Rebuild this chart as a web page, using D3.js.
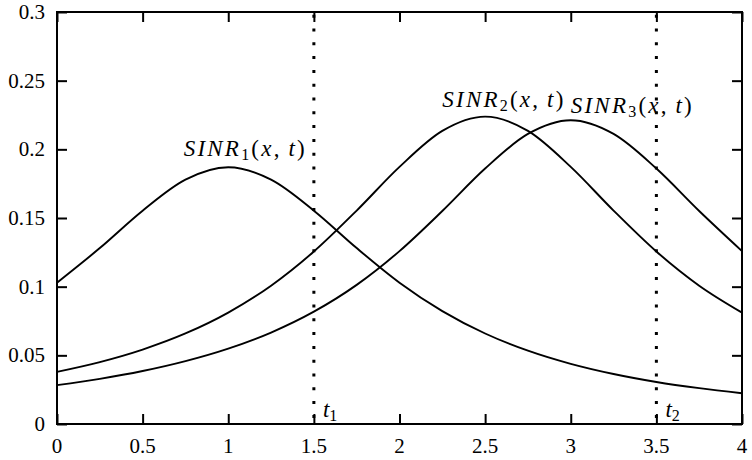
<!DOCTYPE html>
<html>
<head>
<meta charset="utf-8">
<script src="https://cdn.jsdelivr.net/npm/d3@7"></script>
<style>
  html, body { margin: 0; padding: 0; background: #fff; }
  svg { display: block; }
</style>
</head>
<body>
<svg id="chart" width="752" height="460"></svg>
<script>
// Sample positions along x (distance) and the three SINR curves
const xs = [0, 0.25, 0.5, 0.75, 1, 1.25, 1.5, 1.75, 2, 2.25, 2.5, 2.75, 3, 3.25, 3.5, 3.75, 4];
const sinr1 = [0.1029, 0.1281, 0.1553, 0.1779, 0.1869, 0.1779, 0.1553, 0.1281, 0.1029, 0.0822, 0.0659, 0.0534, 0.0438, 0.0364, 0.0306, 0.0261, 0.0224];
const sinr2 = [0.0380, 0.0451, 0.0542, 0.0659, 0.0811, 0.1007, 0.1256, 0.1554, 0.1872, 0.2134, 0.2238, 0.2134, 0.1872, 0.1554, 0.1256, 0.1007, 0.0811];
const sinr3 = [0.0283, 0.0329, 0.0386, 0.0458, 0.0549, 0.0666, 0.0818, 0.1013, 0.1259, 0.1551, 0.1860, 0.2112, 0.2212, 0.2112, 0.1860, 0.1551, 0.1259];

// Axis ticks
const xTicks = [0, 0.5, 1, 1.5, 2, 2.5, 3, 3.5, 4];
const xTickLabels = ["0", "0.5", "1", "1.5", "2", "2.5", "3", "3.5", "4"];
const yTicks = [0, 0.05, 0.1, 0.15, 0.2, 0.25, 0.3];
const yTickLabels = ["0", "0.05", "0.1", "0.15", "0.2", "0.25", "0.3"];

// Time instants marked with vertical dotted lines
const instants = [1.5, 3.5];
const instantNames = ["1", "2"];

// Curve labels: name subscript, anchor position in data units
const curveLabels = [
  { sub: "1", x: 0.74, y: 0.1955 },
  { sub: "2", x: 2.25, y: 0.2305 },
  { sub: "3", x: 3.0, y: 0.2268 }
];

const SERIF = "'Liberation Serif', 'Times New Roman', Times, serif";

const margin = { left: 57, top: 12, right: 10, bottom: 36 };
const W = 752, H = 460;
const iw = W - margin.left - margin.right;   // 685
const ih = H - margin.top - margin.bottom;   // 412

const svg = d3.select("#chart");
const g = svg.append("g").attr("transform", `translate(${margin.left},${margin.top})`);

const x = d3.scaleLinear().domain([0, 4]).range([0, iw]);
const y = d3.scaleLinear().domain([0, 0.3]).range([ih, 0]);

const tickLen = 10;

// Inward ticks on all four sides (mirrored)
const axisStyle = sel => {
  sel.select(".domain").remove();
  sel.selectAll(".tick line").attr("stroke", "#000").attr("stroke-width", 2);
  sel.selectAll(".tick text").remove();
};
g.append("g").attr("transform", `translate(0,${ih})`)
  .call(d3.axisBottom(x).tickValues(xTicks).tickSizeInner(-tickLen).tickSizeOuter(0)).call(axisStyle);
g.append("g")
  .call(d3.axisTop(x).tickValues(xTicks).tickSizeInner(-tickLen).tickSizeOuter(0)).call(axisStyle);
g.append("g")
  .call(d3.axisLeft(y).tickValues(yTicks).tickSizeInner(-tickLen).tickSizeOuter(0)).call(axisStyle);
g.append("g").attr("transform", `translate(${iw},0)`)
  .call(d3.axisRight(y).tickValues(yTicks).tickSizeInner(-tickLen).tickSizeOuter(0)).call(axisStyle);

// Tick labels
g.append("g").selectAll("text").data(xTicks).join("text")
  .attr("font-family", SERIF).attr("font-size", 21).attr("fill", "#000")
  .attr("x", d => x(d))
  .attr("y", ih + 29)
  .attr("text-anchor", "middle")
  .text((d, i) => xTickLabels[i]);
g.append("g").selectAll("text").data(yTicks).join("text")
  .attr("font-family", SERIF).attr("font-size", 21).attr("fill", "#000")
  .attr("x", -12)
  .attr("y", d => y(d) + 7)
  .attr("text-anchor", "end")
  .text((d, i) => yTickLabels[i]);

// Vertical dotted lines at t1, t2
g.append("g").selectAll("line").data(instants).join("line")
  .attr("x1", d => x(d)).attr("x2", d => x(d))
  .attr("y1", y(0.3)).attr("y2", y(0))
  .attr("stroke", "#000")
  .attr("stroke-width", 3)
  .attr("stroke-dasharray", "3 10.8")
  .attr("stroke-dashoffset", 11.1);

// SINR curves
const line = d3.line()
  .x((d, i) => x(xs[i]))
  .y(d => y(d))
  .curve(d3.curveMonotoneX);
g.append("g").selectAll("path").data([sinr1, sinr2, sinr3]).join("path")
  .attr("d", line)
  .attr("fill", "none")
  .attr("stroke", "#000")
  .attr("stroke-width", 1.9)
  .attr("stroke-linejoin", "round");

// Frame
g.append("rect")
  .attr("x", 0).attr("y", 0).attr("width", iw).attr("height", ih)
  .attr("fill", "none").attr("stroke", "#000").attr("stroke-width", 2);

// Curve labels SINR_k(x,t)
curveLabels.forEach(l => {
  const t = g.append("text")
    .attr("font-family", SERIF).attr("font-style", "italic").attr("font-size", 23).attr("fill", "#000")
    .attr("x", x(l.x)).attr("y", y(l.y))
    .attr("textLength", 121).attr("lengthAdjust", "spacing");
  t.append("tspan").text("SINR");
  t.append("tspan").attr("dy", 4).attr("font-size", 16).attr("font-style", "normal").text(l.sub);
  t.append("tspan").attr("dy", -4).attr("font-style", "normal").text("(");
  t.append("tspan").text("x");
  t.append("tspan").attr("font-style", "normal").text(",\u2009");
  t.append("tspan").text("t");
  t.append("tspan").attr("font-style", "normal").text(")");
});

// Instant labels t_1, t_2
instants.forEach((v, i) => {
  const t = g.append("text")
    .attr("font-family", SERIF).attr("font-style", "italic").attr("font-size", 23).attr("fill", "#000")
    .attr("x", x(v) + 9).attr("y", y(0) - 7.5);
  t.append("tspan").text("t");
  t.append("tspan").attr("dy", 4).attr("font-size", 16).attr("font-style", "normal").text(instantNames[i]);
});
</script>
</body>
</html>
